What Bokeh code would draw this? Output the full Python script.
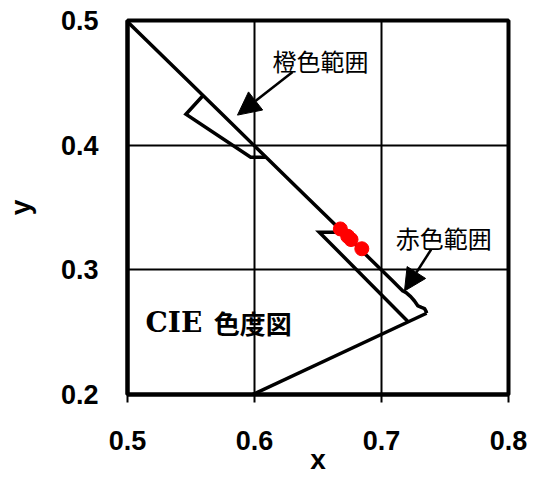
from bokeh.plotting import figure
from bokeh.models import Range1d, FixedTicker, Arrow, NormalHead
from bokeh.core.properties import value
from bokeh.embed import file_html
from bokeh.resources import INLINE

# Axis ticks and their labels
x_ticks = [0.5, 0.6, 0.7, 0.8]
x_tick_labels = ["0.5", "0.6", "0.7", "0.8"]
y_ticks = [0.2, 0.3, 0.4, 0.5]
y_tick_labels = ["0.2", "0.3", "0.4", "0.5"]

# CIE 1931 spectral locus, yellow (575 nm) to deep red (~700 nm)
locus_x = [0.4788, 0.5125, 0.5448, 0.5752, 0.6029, 0.6270, 0.6482, 0.6658,
           0.6801, 0.6915, 0.7006, 0.7079, 0.7140, 0.7168, 0.7194, 0.7230,
           0.7260, 0.7287, 0.7315, 0.7339, 0.7352, 0.7355]
locus_y = [0.5202, 0.4866, 0.4544, 0.4242, 0.3965, 0.3725, 0.3514, 0.3340,
           0.3197, 0.3083, 0.2993, 0.2920, 0.2859, 0.2830, 0.2817, 0.2785,
           0.2750, 0.2710, 0.2698, 0.2689, 0.2665, 0.2652]

# Line of purples leaving the red end of the locus
purple_x = [0.7355, 0.5800]
purple_y = [0.2652, 0.1911]

# Orange region boundary (closes against the locus)
orange_x = [0.5595, 0.5460, 0.5970, 0.6090]
orange_y = [0.4398, 0.4248, 0.3903, 0.3903]

# Red region boundary (closes against the locus and the purple line)
red_x = [0.6696, 0.6510, 0.7208]
red_y = [0.3302, 0.3302, 0.2586]

# Measured chromaticities
dots_x = [0.6676, 0.6734, 0.6760, 0.6845]
dots_y = [0.3328, 0.3269, 0.3243, 0.3169]

# Region labels
label_text = ["橙色範囲", "赤色範囲"]
label_x = [0.652, 0.749]
label_y = [0.468, 0.3263]

title_latin = ["CIE"]
title_cjk = ["色度図"]

p = figure(width=538, height=477,
           x_range=Range1d(0.5, 0.8), y_range=Range1d(0.2, 0.5),
           output_backend="svg", toolbar_location=None,
           min_border_left=127, min_border_right=30,
           min_border_top=20, min_border_bottom=81,
           x_axis_label="x", y_axis_label="y")

p.background_fill_color = "white"
p.border_fill_color = "white"
p.outline_line_color = "black"
p.outline_line_width = 4

p.xaxis.ticker = FixedTicker(ticks=x_ticks)
p.yaxis.ticker = FixedTicker(ticks=y_ticks)
p.xaxis.major_label_overrides = dict(zip(x_ticks, x_tick_labels))
p.yaxis.major_label_overrides = dict(zip(y_ticks, y_tick_labels))

for ax in (p.xaxis, p.yaxis):
    ax.axis_line_color = "black"
    ax.axis_line_width = 4
    ax.minor_tick_line_color = None
    ax.major_tick_line_color = "black"
    ax.major_tick_line_width = 2
    ax.major_tick_in = 0
    ax.major_label_text_font = "Liberation Sans"
    ax.major_label_text_font_style = "bold"
    ax.major_label_text_font_size = "27px"
    ax.major_label_text_color = "black"
    ax.axis_label_text_font = "Liberation Sans"
    ax.axis_label_text_font_style = "bold"
    ax.axis_label_text_font_size = "28px"
    ax.axis_label_text_color = "black"

p.xaxis.major_tick_out = 8
p.xaxis.major_label_standoff = 28
p.xaxis.axis_label_standoff = -9
p.yaxis.major_tick_out = 0
p.yaxis.major_label_standoff = 29
p.yaxis.axis_label_standoff = 22

p.grid.grid_line_color = "black"
p.grid.grid_line_width = 2

p.line(locus_x, locus_y, line_color="black", line_width=3.5, line_join="round")
p.line(purple_x, purple_y, line_color="black", line_width=3.5)
p.line(orange_x, orange_y, line_color="black", line_width=3.5, line_join="miter")
p.line(red_x, red_y, line_color="black", line_width=3.5, line_join="miter")

p.scatter(dots_x, dots_y, size=14, fill_color="red", line_color="red")

# Arrows pointing from the labels to their regions
p.add_layout(Arrow(end=NormalHead(size=23, fill_color="black", line_color="black"),
                   x_start=0.630, y_start=0.4587, x_end=0.5866, y_end=0.4241,
                   line_color="black", line_width=2.5))
p.add_layout(Arrow(end=NormalHead(size=22, fill_color="black", line_color="black"),
                   x_start=0.7391, y_start=0.3163, x_end=0.7181, y_end=0.2830,
                   line_color="black", line_width=2.5))

p.text(label_x, label_y, text=label_text, text_font=value("Noto Sans CJK JP"),
       text_font_size="24px", text_align="center", text_baseline="middle",
       text_color="black")

p.text([0.5142], [0.258], text=title_latin, text_font=value("DejaVu Serif"),
       text_font_style="bold", text_font_size="28px", text_align="left",
       text_baseline="middle", text_color="black")
p.text([0.5680], [0.258], text=title_cjk, text_font=value("Noto Sans CJK JP"),
       text_font_style="bold", text_font_size="26px", text_align="left",
       text_baseline="middle", text_color="black")

open("out.html", "w").write(file_html(p, INLINE))
